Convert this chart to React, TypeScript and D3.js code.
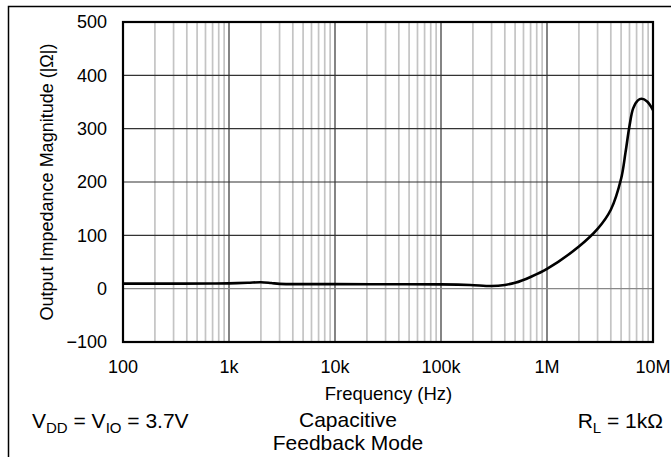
import React from 'react';
import * as d3 from 'd3';

// Output impedance vs frequency
const freqHz = [
  100, 300, 700, 1000, 1500, 2000, 2500, 3000, 5000, 10000, 30000, 100000,
  188000, 300000, 400000, 500000, 700000, 1e6, 2e6, 3e6, 4e6, 5e6, 5.5e6,
  6e6, 6.5e6, 7.2e6, 7.8e6, 8.8e6, 1e7,
];
const impedanceOhm = [
  9.5, 9.5, 9.7, 10, 11, 12, 10.5, 9, 8.5, 8.5, 8.2, 8, 7, 5, 7, 11, 22, 37,
  79, 112, 148, 206, 255, 305, 338, 353, 356, 351, 335,
];

const xTicks = [100, 1000, 10000, 100000, 1e6, 1e7];
const xTickLabels = ['100', '1k', '10k', '100k', '1M', '10M'];
const yTicks = [-100, 0, 100, 200, 300, 400, 500];

const W = 671;
const H = 457;
const margin = { top: 22, right: 18, bottom: 115, left: 123 };
const FONT = '"Liberation Sans", Arial, Helvetica, sans-serif';

const App: React.FC = () => {
  const x = d3.scaleLog().domain([100, 1e7]).range([margin.left, W - margin.right]);
  const y = d3.scaleLinear().domain([-100, 500]).range([H - margin.bottom, margin.top]);

  // minor decade lines 2..9
  const minor: number[] = [];
  for (let d = 100; d < 1e7; d *= 10) {
    for (let k = 2; k <= 9; k++) minor.push(d * k);
  }

  const pts: [number, number][] = freqHz.map((f, i) => [x(f), y(impedanceOhm[i])]);
  const line = d3.line().curve(d3.curveCatmullRom.alpha(0.5))(pts) || '';

  const [x0, x1] = x.range();
  const [y0, y1] = y.range();

  return (
    <svg
      width={W}
      height={H}
      style={{ position: 'absolute', left: 0, top: 0, background: '#fff' }}
      fontFamily={FONT}
    >
      <rect x={8.5} y={6.5} width={700} height={500} fill="none" stroke="#000" strokeWidth={1.5} />

      {/* minor grid */}
      {minor.map(f => (
        <line key={'m' + f} x1={x(f)} x2={x(f)} y1={y1} y2={y0} stroke="#c4c4c4" strokeWidth={1.7} />
      ))}
      {/* major vertical grid */}
      {xTicks.map(f => (
        <line key={'v' + f} x1={x(f)} x2={x(f)} y1={y1} y2={y0} stroke="#333" strokeWidth={1.2} />
      ))}
      {/* horizontal grid */}
      {yTicks.map(v => (
        <line key={'h' + v} x1={x0} x2={x1} y1={y(v)} y2={y(v)} stroke={v === 0 ? '#888' : '#333'} strokeWidth={1.2} />
      ))}

      <path d={line} fill="none" stroke="#000" strokeWidth={2.6} />

      <rect x={x0} y={y1} width={x1 - x0} height={y0 - y1} fill="none" stroke="#000" strokeWidth={2.2} />

      {/* y tick labels */}
      {yTicks.map(v => (
        <text key={'yl' + v} x={107} y={y(v)} dy="0.35em" textAnchor="end" fontSize={18} fill="#000">
          {v < 0 ? '\u2212' + Math.abs(v) : v}
        </text>
      ))}
      {/* x tick labels */}
      {xTicks.map((f, i) => (
        <text key={'xl' + f} x={x(f)} y={372.5} textAnchor="middle" fontSize={18} fill="#000">
          {xTickLabels[i]}
        </text>
      ))}

      <text x={388.5} y={400} textAnchor="middle" fontSize={18.5} fill="#000">Frequency (Hz)</text>
      <text
        transform={`translate(47,${(y0 + y1) / 2}) rotate(-90)`}
        dy="0.35em"
        textAnchor="middle"
        fontSize={18}
        fill="#000"
      >
        Output Impedance Magnitude (|Ω|)
      </text>

      <text x={32} y={428} fontSize={21} fill="#000">
        V<tspan fontSize={15} dy={5}>DD</tspan>
        <tspan dy={-5}> = V</tspan>
        <tspan fontSize={15} dy={5}>IO</tspan>
        <tspan dy={-5}> = 3.7V</tspan>
      </text>
      <text x={348} y={427} textAnchor="middle" fontSize={21} fill="#000">Capacitive</text>
      <text x={348} y={450} textAnchor="middle" fontSize={21} fill="#000">Feedback Mode</text>
      <text x={663} y={428} textAnchor="end" fontSize={21} fill="#000">
        R<tspan fontSize={15} dy={5}>L</tspan>
        <tspan dy={-5}> = 1kΩ</tspan>
      </text>
    </svg>
  );
};

export default App;
